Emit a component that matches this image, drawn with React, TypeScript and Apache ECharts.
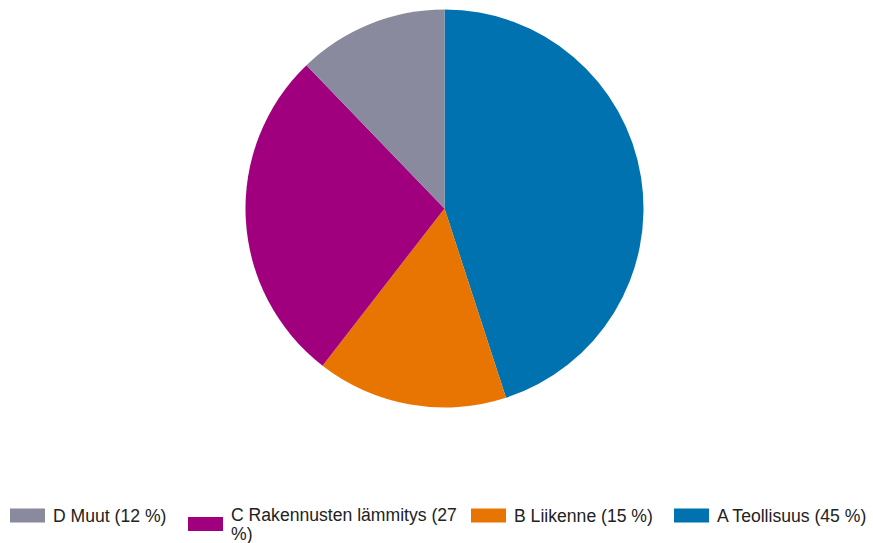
import React, { useEffect, useRef } from "react";
import * as echarts from "echarts";

const categories = ["A Teollisuus", "B Liikenne", "C Rakennusten lämmitys", "D Muut"];
const values = [45.0, 15.5, 27.3, 12.2];
const percentLabels = ["45", "15", "27", "12"];
const colors = ["#0072B0", "#E87502", "#A0007E", "#898A9E"];

export default function App() {
  const ref = useRef<HTMLDivElement>(null);
  useEffect(() => {
    if (!ref.current) return;
    const chart = echarts.init(ref.current, null, { renderer: "svg" });
    const labelOf = (name: string) => {
      const i = categories.indexOf(name);
      return `${name} (${percentLabels[i]} %)`;
    };
    const legendBase = {
      orient: "horizontal" as const,
      padding: 0,
      itemWidth: 35,
      itemHeight: 14,
      icon: "rect",
      selectedMode: false,
      textStyle: {
        fontFamily: "Liberation Sans, Arial, sans-serif",
        fontSize: 17.6,
        lineHeight: 19,
        color: "#222",
        padding: [0, 0, 0, 3],
      },
    };
    const legendPos: Record<string, { left: number; top: number }> = {
      "D Muut": { left: 10, top: 506 },
      "C Rakennusten lämmitys": { left: 188, top: 505 },
      "B Liikenne": { left: 471, top: 506 },
      "A Teollisuus": { left: 674, top: 506 },
    };
    const legendOrder = ["D Muut", "C Rakennusten lämmitys", "B Liikenne", "A Teollisuus"];
    const legends = legendOrder.map((name) => ({
      ...legendBase,
      left: legendPos[name].left,
      top: legendPos[name].top,
      data: [name],
      formatter: (n: string) => {
        const t = labelOf(n);
        if (n === "C Rakennusten lämmitys") {
          return t.replace(" %)", "\n%)");
        }
        return t;
      },
    }));
    chart.setOption({
      animation: false,
      color: colors,
      legend: legends,
      series: [
        {
          type: "pie",
          center: [444.5, 208.5],
          radius: 199,
          startAngle: 90,
          clockwise: true,
          label: { show: false },
          labelLine: { show: false },
          emphasis: { disabled: true },
          itemStyle: { borderWidth: 0 },
          data: categories.map((c, i) => ({ name: c, value: values[i] })),
        },
      ],
    });
    return () => chart.dispose();
  }, []);
  return (
    <div
      ref={ref}
      style={{ position: "fixed", left: 0, top: 0, width: 873, height: 543, background: "#fff" }}
    />
  );
}
